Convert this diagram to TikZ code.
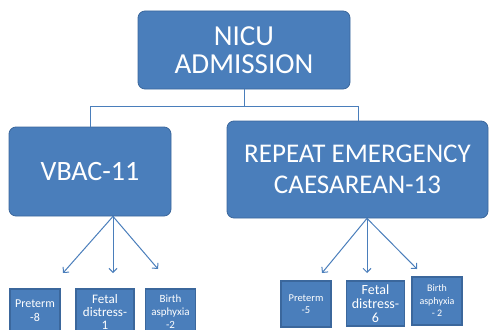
\documentclass[tikz,border=0pt]{standalone}
\usepackage{fontspec}
\setmainfont{Carlito}
\usetikzlibrary{arrows.meta}
\definecolor{boxblue}{HTML}{4A7EBB}
\definecolor{boxedge}{HTML}{3B679C}
\tikzset{
  bigbox/.style={draw=boxedge, fill=boxblue, rounded corners=7pt, text=white, align=center, inner sep=0pt, line width=0.8pt},
  smallbox/.style={draw=boxedge, fill=boxblue, text=white, align=center, inner sep=0pt, line width=1.2pt},
  link/.style={draw=boxblue, line width=1pt},
  pointer/.style={link, -{Straight Barb[length=4pt,width=8pt]}}
}
\begin{document}
\begin{tikzpicture}[x=1pt,y=-1pt]
\useasboundingbox (0,0) rectangle (489,329);
\clip (0,0) rectangle (489,329);

% top level
\node[bigbox, minimum width=212pt, minimum height=78pt, font=\fontsize{29}{28}\selectfont] (nicu) at (244,50) {NICU\\ADMISSION};
\node[bigbox, minimum width=162pt, minimum height=89pt, font=\fontsize{28}{30}\selectfont] (vbac) at (90,171.5) {VBAC-11};
\node[bigbox, minimum width=261pt, minimum height=97pt, font=\fontsize{27}{31}\selectfont] (repeat) at (357.5,169.5) {REPEAT EMERGENCY\\CAESAREAN-13};

\draw[link] (nicu.south) -- ++(0,17) -| (vbac.north -| 90,0);
\draw[link] (nicu.south) ++(0,17) -| (repeat.north -| 358,0);

% small boxes, VBAC side
\node[smallbox, minimum width=50pt, minimum height=44pt, font=\fontsize{12}{14}\selectfont] (pretermA) at (35,311) {Preterm\\-8};
\node[smallbox, minimum width=58pt, minimum height=46pt, font=\fontsize{13}{13}\selectfont] (fetalA) at (105,312) {Fetal\\distress-\\1};
\node[smallbox, minimum width=50pt, minimum height=45pt, font=\fontsize{11}{13}\selectfont] (birthA) at (170.5,311.5) {Birth\\asphyxia\\-2};

% small boxes, caesarean side
\node[smallbox, minimum width=50pt, minimum height=46pt, font=\fontsize{10.5}{12}\selectfont] (pretermB) at (306,304) {Preterm\\-5};
\node[smallbox, minimum width=58pt, minimum height=45pt, font=\fontsize{14}{14}\selectfont] (fetalB) at (375.5,303.5) {Fetal\\distress-\\6};
\node[smallbox, minimum width=50pt, minimum height=48pt, font=\fontsize{10}{12.5}\selectfont] (birthB) at (437,301) {Birth\\asphyxia\\- 2};

% arrow ends
\coordinate (tipA1) at (63,273);
\coordinate (tipA2) at (113,273);
\coordinate (tipA3) at (158,269);
\coordinate (tipB1) at (322,273);
\coordinate (tipB2) at (367,273);
\coordinate (tipB3) at (417,269);

\draw[pointer] (vbac.south -| 113,0) -- (tipA1);
\draw[pointer] (vbac.south -| 113,0) -- (tipA2);
\draw[pointer] (vbac.south -| 113,0) -- (tipA3);
\draw[pointer] (repeat.south -| 367,0) -- (tipB1);
\draw[pointer] (repeat.south -| 367,0) -- (tipB2);
\draw[pointer] (repeat.south -| 367,0) -- (tipB3);
\end{tikzpicture}
\end{document}
